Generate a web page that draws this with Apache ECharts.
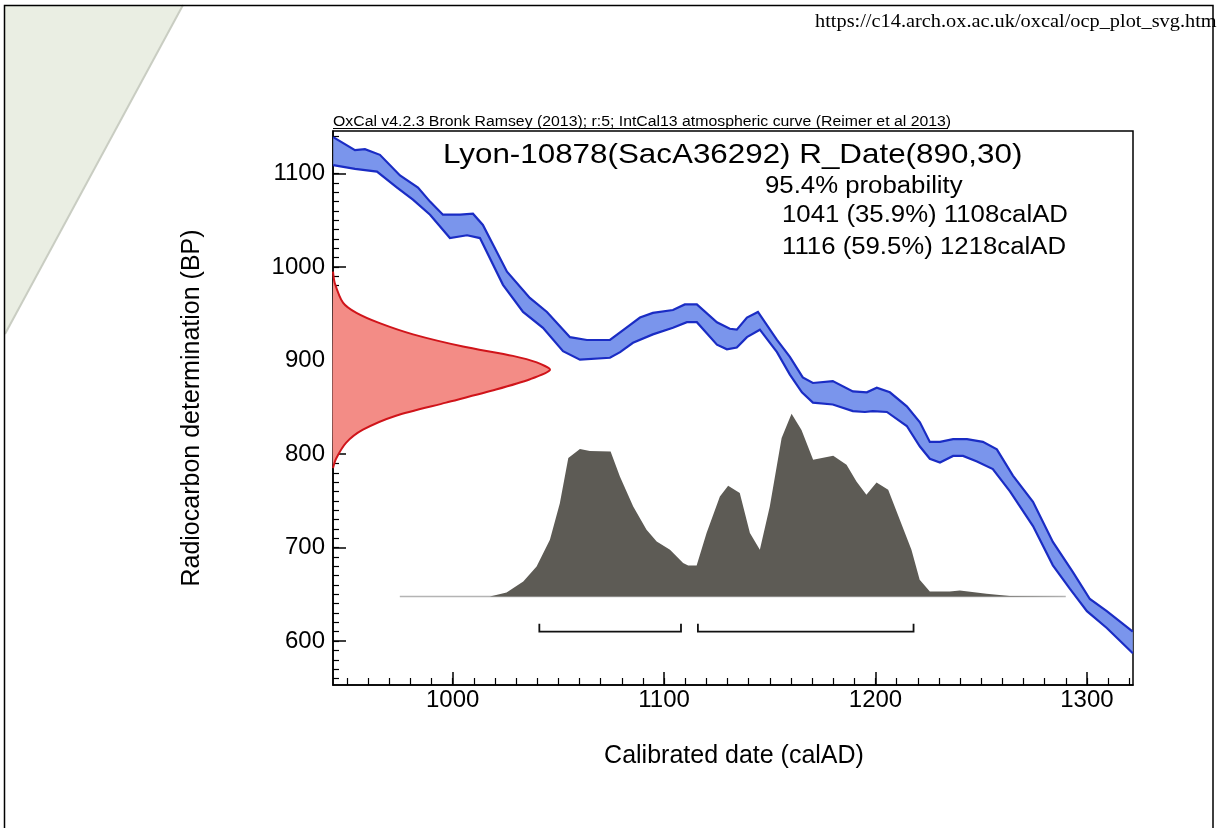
<!DOCTYPE html>
<html>
<head>
<meta charset="utf-8">
<script src="https://cdn.jsdelivr.net/npm/echarts@6/dist/echarts.min.js"></script>
<style>
html,body{margin:0;padding:0;background:#fff;}
#chart{width:1217px;height:828px;}
</style>
</head>
<body>
<div id="chart"></div>
<script>
// ---- Calibration curve (IntCal13, 1-sigma band), upper and lower edges (BP) ----
const upperYears = [943.5,953.8,958.5,965.6,975.1,983.6,989.3,995.4,1003.5,1009.6,1014.3,1025.7,1036.5,1044.6,1055.5,1063.5,1074.4,1083.8,1088.6,1094.7,1104.2,1109.8,1115.5,1125.0,1131.1,1134.4,1139.2,1144.4,1153.4,1159.5,1165.6,1170.4,1179.8,1189.3,1195.9,1200.6,1206.8,1214.8,1221.0,1225.7,1230.5,1236.7,1243.3,1250.8,1257.4,1265.0,1274.5,1283.9,1293.3,1301.4,1309.4,1321.7];
const upperBP    = [1139,1125,1126,1120,1098,1085,1070,1056,1056,1057,1045,995,967,952,925,922,922,938,946,951,954,960,960,941,934,933,946,952,922,904,882,876,878,867,866,871,866,851,834,813,813,816,816,813,805,777,749,706,674,645,632,610];
const lowerYears = [943.5,953.8,964.2,973.7,981.2,989.3,998.7,1006.8,1012.9,1023.8,1033.3,1042.7,1052.2,1060.2,1074.4,1079.2,1085.3,1094.7,1104.2,1110.8,1115.5,1125.0,1129.7,1134.4,1139.2,1145.3,1153.4,1159.5,1165.2,1170.4,1179.8,1189.3,1195.0,1198.7,1205.4,1214.8,1221.0,1225.7,1230.5,1236.7,1241.4,1248.0,1255.5,1263.6,1274.5,1283.9,1291.9,1300.0,1309.4,1321.7];
const lowerBP    = [1109,1105,1102,1085,1072,1056,1031,1034,1031,981,952,935,910,901,903,909,919,928,935,941,941,917,912,914,925,933,909,885,866,855,853,846,845,846,845,830,808,795,791,798,798,792,784,760,723,681,656,632,614,587];

// ---- Radiocarbon measurement R_Date(890,30): relative probability vs BP ----
const rdateBP   = [995,983,962,951,940,928,915,905,898,890,880,869,855,841,826,812,795,785];
const rdateProb = [0,0.008,0.046,0.108,0.215,0.369,0.599,0.829,0.939,1.0,0.908,0.751,0.521,0.29,0.138,0.06,0.014,0];

// ---- Calibrated date distribution: relative probability vs calendar year ----
const calYears = [975,1017.6,1025.5,1033.4,1039.7,1046.0,1050.7,1054.7,1060.2,1064.9,1074.7,1079.1,1085.4,1091.7,1096.5,1102.8,1109.0,1111.4,1115.4,1120.1,1126.4,1130.3,1135.8,1140.6,1145.3,1150.0,1155.6,1160.3,1165.0,1170.5,1180.0,1186.3,1191.0,1195.7,1200.5,1206.0,1211.5,1217.0,1220.9,1225.7,1235.1,1239.9,1252.5,1263.5,1290];
const calProb  = [0,0,0.022,0.082,0.164,0.31,0.511,0.758,0.807,0.797,0.794,0.657,0.493,0.365,0.301,0.256,0.183,0.17,0.17,0.347,0.547,0.606,0.566,0.347,0.256,0.493,0.867,1.0,0.912,0.748,0.77,0.721,0.629,0.557,0.624,0.584,0.42,0.256,0.091,0.027,0.027,0.033,0.015,0.003,0];

// ---- 95.4% ranges ----
const rangeStart = [1041,1116];
const rangeEnd   = [1108,1218];

// ---- Tick labels ----
const xTicks = [1000,1100,1200,1300];
const yTicks = [600,700,800,900,1000,1100];

const xMin = 943.4, xMax = 1321.8, yMin = 553, yMax = 1145.5;
const xMinor = []; for (let v = 950; v <= 1320; v += 10) xMinor.push(v);
const yMinor = []; for (let v = 560; v <= 1140; v += 10) yMinor.push(v);

const FONT = '"Liberation Sans", Arial, sans-serif';

const chart = echarts.init(document.getElementById('chart'), null, {renderer:'canvas'});

function bandRender(params, api) {
  if (params.dataIndex !== 0) return;
  const up = upperYears.map((y,i)=>api.coord([y, upperBP[i]]));
  const lo = lowerYears.map((y,i)=>api.coord([y, lowerBP[i]]));
  const poly = up.concat(lo.slice().reverse());
  return {type:'group', children:[
    {type:'polygon', shape:{points:poly}, style:{fill:'#7a95ec', stroke:null}},
    {type:'polyline', shape:{points:up}, style:{stroke:'#1a2cc4', lineWidth:2.2, fill:null}},
    {type:'polyline', shape:{points:lo}, style:{stroke:'#1a2cc4', lineWidth:2.2, fill:null}}
  ]};
}
function rdateRender(params, api) {
  if (params.dataIndex !== 0) return;
  const pts = rdateBP.map((b,i)=>api.coord([rdateProb[i], b]));
  return {type:'group', children:[
    {type:'polygon', shape:{points:pts, smooth:0.25}, style:{fill:'#f38c86', stroke:null}},
    {type:'polyline', shape:{points:pts, smooth:0.25}, style:{stroke:'#d0141a', lineWidth:2, fill:null}}
  ]};
}
function calRender(params, api) {
  if (params.dataIndex !== 0) return;
  const pts = calYears.map((y,i)=>api.coord([y, calProb[i]]));
  const b0 = api.coord([calYears[0],0]), b1 = api.coord([calYears[calYears.length-1],0]);
  return {type:'group', children:[
    {type:'line', shape:{x1:b0[0],y1:b0[1],x2:b1[0],y2:b1[1]}, style:{stroke:'#b4b4b4', lineWidth:1.5}},
    {type:'polygon', shape:{points:pts}, style:{fill:'#5d5b55', stroke:null}}
  ]};
}
function rangeRender(params, api) {
  const i = params.dataIndex;
  const a = api.coord([rangeStart[i], 610]);
  const b = api.coord([rangeEnd[i], 610]);
  const t = api.coord([rangeStart[i], 618.5]);
  const pts = [[a[0], t[1]], a, b, [b[0], t[1]]];
  return {type:'polyline', shape:{points:pts}, style:{stroke:'#111', lineWidth:1.8, fill:null}};
}

const plain = v => String(Math.round(v));

const option = {
  animation:false,
  backgroundColor:'#fff',
  grid:{left:333, top:131, width:800, height:554, show:true, borderColor:'#000', borderWidth:1.5, backgroundColor:'transparent'},
  xAxis:[
    {type:'value', min:xMin, max:xMax, position:'bottom',
     axisLine:{show:true, onZero:false, lineStyle:{color:'#000', width:1.5}},
     axisTick:{show:true, inside:true, length:13, customValues:xTicks, lineStyle:{color:'#000', width:1.5}},
     axisLabel:{show:true, customValues:xTicks, formatter:plain, fontSize:24, fontFamily:FONT, color:'#000', margin:3},
     splitLine:{show:false}},
    {type:'value', min:xMin, max:xMax, position:'bottom',
     axisLine:{show:false, onZero:false},
     axisTick:{show:true, inside:true, length:7, customValues:xMinor, lineStyle:{color:'#000', width:1.2}},
     axisLabel:{show:false}, splitLine:{show:false}},
    {type:'value', min:0, max:800/217, show:false, axisLine:{onZero:false}}
  ],
  yAxis:[
    {type:'value', min:yMin, max:yMax, position:'left',
     axisLine:{show:true, onZero:false, lineStyle:{color:'#000', width:1.5}},
     axisTick:{show:true, inside:true, length:13, customValues:yTicks, lineStyle:{color:'#000', width:1.5}},
     axisLabel:{show:true, customValues:yTicks, formatter:plain, fontSize:24, fontFamily:FONT, color:'#000', margin:8},
     splitLine:{show:false}},
    {type:'value', min:yMin, max:yMax, position:'left',
     axisLine:{show:false, onZero:false},
     axisTick:{show:true, inside:true, length:6, customValues:yMinor, lineStyle:{color:'#000', width:1.2}},
     axisLabel:{show:false}, splitLine:{show:false}},
    {type:'value', min:-88.5/182.7, max:(554-88.5)/182.7, show:false, axisLine:{onZero:false}}
  ],
  series:[
    {type:'custom', xAxisIndex:0, yAxisIndex:2, renderItem:calRender, data:[[calYears[0],0]], z:2},
    {type:'custom', xAxisIndex:0, yAxisIndex:0, renderItem:bandRender, data:[[upperYears[0],upperBP[0]]], z:3},
    {type:'custom', xAxisIndex:2, yAxisIndex:0, renderItem:rdateRender, data:[[0,rdateBP[0]]], z:4},
    {type:'custom', xAxisIndex:0, yAxisIndex:0, renderItem:rangeRender, data:rangeStart.map((s,i)=>[s,610]), z:5}
  ],
  graphic:[
    {type:'polygon', z:-10, shape:{points:[[5,5],[183,5],[5,334]]}, style:{fill:'#eaeee3'}},
    {type:'polyline', z:-9, shape:{points:[[183,5],[5,334]]}, style:{stroke:'#c9cdc2', lineWidth:2}},
    {type:'rect', z:-8, shape:{x:4.5,y:5.5,width:1208.5,height:840}, style:{fill:null, stroke:'#000', lineWidth:1.5}},
    {type:'text', x:815, y:22, scaleX:1.13, style:{text:'https://c14.arch.ox.ac.uk/oxcal/ocp_plot_svg.htm', font:'18px "Liberation Serif", "Times New Roman", serif', fill:'#000', verticalAlign:'middle'}},
    {type:'text', x:333, y:122, scaleX:1.13, style:{text:'OxCal v4.2.3 Bronk Ramsey (2013); r:5; IntCal13 atmospheric curve (Reimer et al 2013)', font:'14px '+FONT, fill:'#000', verticalAlign:'middle'}},
    {type:'line', shape:{x1:333,y1:128.5,x2:948,y2:128.5}, style:{stroke:'#000', lineWidth:1}},
    {type:'text', x:443, y:155, scaleX:1.12, style:{text:'Lyon-10878(SacA36292) R_Date(890,30)', font:'28px '+FONT, fill:'#000', verticalAlign:'middle'}},
    {type:'text', x:765, y:187, scaleX:1.12, style:{text:'95.4% probability', font:'23px '+FONT, fill:'#000', verticalAlign:'middle'}},
    {type:'text', x:782, y:215.5, scaleX:1.12, style:{text:'1041 (35.9%) 1108calAD', font:'23px '+FONT, fill:'#000', verticalAlign:'middle'}},
    {type:'text', x:782, y:247.5, scaleX:1.12, style:{text:'1116 (59.5%) 1218calAD', font:'23px '+FONT, fill:'#000', verticalAlign:'middle'}},
    {type:'text', x:192, y:408, rotation:Math.PI/2, style:{text:'Radiocarbon determination (BP)', font:'25px '+FONT, fill:'#000', align:'center', verticalAlign:'middle'}},
    {type:'text', x:734, y:756, style:{text:'Calibrated date (calAD)', font:'25px '+FONT, fill:'#000', align:'center', verticalAlign:'middle'}}
  ]
};
chart.setOption(option);
</script>
</body>
</html>
